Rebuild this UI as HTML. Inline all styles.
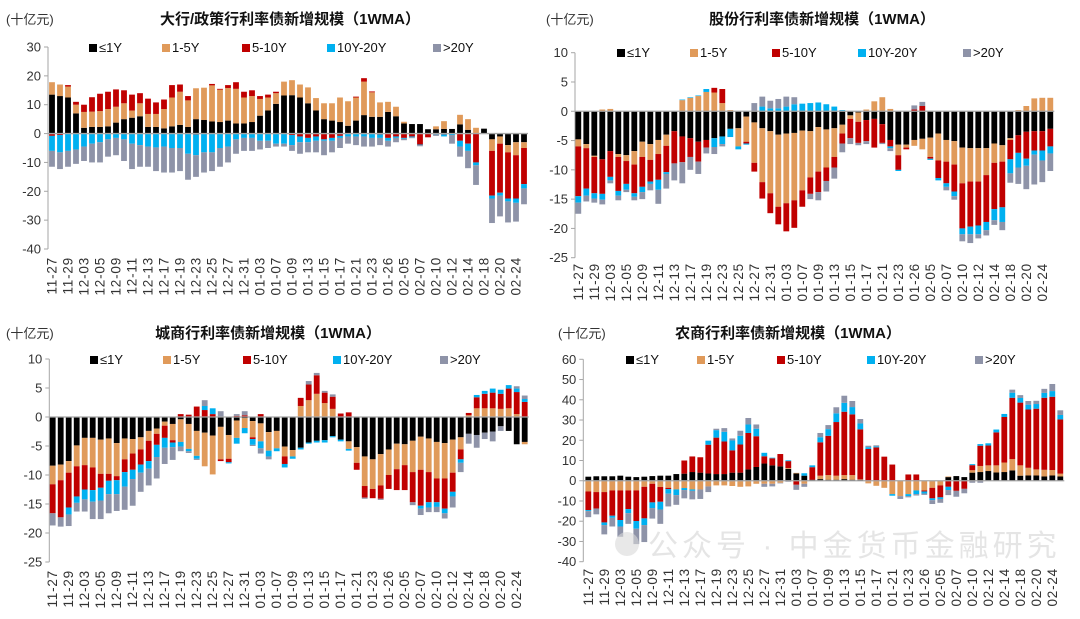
<!DOCTYPE html>
<html><head><meta charset="utf-8">
<style>
html,body{margin:0;padding:0;background:#fff;}
svg{display:block;font-family:"Liberation Sans","Noto Sans CJK SC",sans-serif;}
</style></head>
<body>
<svg id="chart" width="1080" height="619" viewBox="0 0 1080 619" xmlns="http://www.w3.org/2000/svg"></svg>
<script>
const categories = ["11-27","11-28","11-29","12-02","12-03","12-04","12-05","12-06","12-09","12-10","12-11","12-12","12-13","12-16","12-17","12-18","12-19","12-20","12-23","12-24","12-25","12-26","12-27","12-30","12-31","01-02","01-03","01-06","01-07","01-08","01-09","01-10","01-13","01-14","01-15","01-16","01-17","01-20","01-21","01-22","01-23","01-24","01-26","01-27","02-05","02-06","02-07","02-08","02-10","02-11","02-12","02-13","02-14","02-17","02-18","02-19","02-20","02-21","02-24","02-25"];
const seriesNames = ["≤1Y","1-5Y","5-10Y","10Y-20Y",">20Y"];

// Panel 1: 大行/政策行
const p1k = [13.5,13,12.5,7,2,2.3,2.3,2.5,3.8,5,5.5,6,2.3,2.3,1.8,2.5,3,2.3,5,4.7,4.2,4,4.5,3.5,3.5,4,6.2,8,10.3,13.2,13.3,12.5,10.5,8,5,4.5,4,2.7,4.5,6.4,5.8,5.8,7.5,6,3.5,3.3,3.3,1.5,1.5,1.6,1.6,3.2,1.3,0,1.7,-2,-1,-4,-3,-3];
const p1o = [4.3,4,3.8,3,5.5,5.3,5.5,6,5.5,5.5,2.5,4.5,4.5,4.5,6.7,10,11.5,9.2,10.7,11.2,12.5,11.2,11.3,12,9,9,5.8,4.5,3.7,4.8,5.2,4.5,5.5,4.3,5.5,6,8.5,8.5,8,11.6,8.5,5,3.5,3.3,0.6,0,0,0,1,2.7,0,3.3,3.7,2,0,-4,-2.5,-2.5,-4.5,-2];
const p1r = [-0.8,-0.5,0.5,1,2.5,5,6,6,6,4.5,5.5,3.5,5.3,4,3.3,4.3,2.5,1.5,-0.3,0,0.5,0.3,1,2.3,2,2,1,1,0.5,0,-0.5,-1,-1.5,-1,-2,-1.5,-0.8,0,0.3,1.2,0.3,-0.3,-1.5,-1,-1.5,-1,-3.8,-1.3,0,-0.3,0,-2.5,-3.5,-10,0,-15.5,-17,-16,-15,-12.5];
const p1b = [-5.2,-6,-6,-5.5,-4.5,-3.5,-3,-2,-1.5,-2,-3.5,-4,-4.5,-4.8,-4.5,-5,-5,-7,-7.2,-6.5,-6.5,-5,-4.5,-2,-1.5,-1.5,-2.5,-2.5,-3.5,-3.5,-3.5,-2,-1.5,-1.5,-0.5,-1,-0.7,-1,-1,-1,-1.5,-1.2,-1,-0.5,-0.3,-0.3,-0.2,0,-0.3,-0.7,-0.5,-2,-2.5,-1,0,-1,-1,-1,-1.5,-1.5];
const p1g = [-5.5,-5.8,-5.5,-5,-5,-6.5,-7,-6,-6,-7.5,-8.8,-7.5,-7,-8.2,-9,-8.5,-8,-9,-7.5,-7,-6.5,-6.5,-5.5,-5,-4.5,-4.5,-3,-2.5,-1,-1,-2,-4,-3.5,-4,-5,-4,-3.5,-2.5,-3,-3.5,-3,-2.5,-2,-1.5,-0.5,-0.3,-0.4,0,-0.5,0,-3,-3.5,-6,-6.8,0,-8.5,-7.2,-7.3,-6.5,-5.5];
const p1Ticks = [30,20,10,0,-10,-20,-30,-40];

// Panel 2: 股份行
const p2k = [-4.8,-5.6,-7.6,-8.2,-6.8,-7.3,-7.5,-6.8,-5.2,-5.6,-4.9,-4,-3.4,-4.3,-4.6,-5.2,-4.9,-4.6,-4.3,-3,-2.9,-0.9,-1.9,-2.9,-3.4,-4,-3.8,-3.7,-3.3,-3.4,-2.7,-3.1,-2.9,-2.3,-0.7,-0.2,-1.5,-1.3,-2.2,-4.9,-5.7,-5.7,-4.9,-4.7,-4.5,-3.8,-4.9,-5.1,-6.2,-6.3,-6.3,-6.3,-5.5,-5.8,-4.6,-4.1,-3.5,-3.4,-3.4,-3];
const p2o = [-1.2,-0.7,-0.2,0.3,0.4,-0.5,-1,-2.3,-2.6,-2.7,-2.4,-1.9,0,1.9,2.3,2.6,3.3,3.2,1.4,0.2,-3.1,-4.3,-6.9,-9.2,-10.6,-12.3,-11.9,-11.5,-10.2,-7.9,-7.6,-6.5,-4.9,-1.5,-0.6,-1.6,0.3,1.7,2.4,0.4,-1.8,-0.5,-1,-1.8,-3.3,-4.6,-3.7,-4,-6.1,-5.7,-5.7,-4.6,-3.3,-2.8,-0.3,0.2,0.9,2.2,2.3,2.3];
const p2r = [-8.5,-6.9,-6.2,-5.9,-4.4,-5.8,-3.9,-4.9,-5.1,-3.7,-4.4,-4.5,-5.5,-4.4,-3.2,-3.4,-1.3,0.8,2.4,0,0,-0.3,-1.5,-2.8,-3.4,-3,-4.8,-4.7,-2.8,-2.8,-3.5,-2.3,-1.8,-1.7,-3.3,-3.6,-3.6,-4.9,-3.2,-1.1,-2.5,-0.3,0.3,0.9,-0.3,-3,-3.7,-4.6,-7.7,-7.7,-7.5,-8,-7.9,-7.8,-3.3,-3,-4.6,-3.3,-3.3,-3];
const p2b = [-1.1,-1.2,-0.9,-1,-0.6,-0.8,-1,-0.6,-0.9,-0.4,-1.7,-0.3,0,0.1,0.1,0.1,0.5,-1.5,-1.3,-1.4,-0.5,-0.2,0,0.8,0.5,0.5,0.8,1.2,1.3,1.4,1.5,1.2,0.8,0.2,0,0,0,0,0,-0.3,-0.2,0,0,0,-0.2,-0.4,-0.6,-0.8,-1,-1.3,-1.5,-1.4,-1.9,-2.5,-2.4,-2.5,-1.2,-0.7,-1.7,-1.2];
const p2g = [-1.9,-1,-0.7,-0.8,-0.5,-0.8,-0.4,-0.6,-1.2,-1.1,-2.4,-2.5,-2.9,-3.6,-2.2,-2.1,-1,-1.2,-0.4,0,0,0,1.4,1.7,1.3,1.6,1.7,1.2,0,-0.9,-1.4,-1.8,-1.9,-1.5,-1,-0.4,-0.5,0,-0.2,-0.5,0,0,0.7,0.7,0,0,-0.6,-0.6,-1.2,-1.5,-0.7,-0.9,-0.8,-1.4,-1.6,-2.8,-4,-5.1,-3.7,-3];
const p2Ticks = [10,5,0,-5,-10,-15,-20,-25];

// Panel 3: 城商行
const p3k = [-8.4,-8.2,-7.6,-4.9,-3.6,-3.6,-3.9,-3.7,-4.5,-3.7,-3.8,-3.5,-2.4,-2,-0.8,-1.2,-0.4,-1.2,-2.4,-2.7,-3.2,-1.7,-3.1,-0.6,-0.2,-0.7,-1.1,-2.6,-2.4,-5.1,-5.7,-5.3,-4.4,-4.1,-4,-3.3,-3.9,-4.2,-5.2,-6.8,-7.3,-6.4,-5.6,-4.6,-4.7,-4.1,-3.4,-3.7,-4.3,-4.5,-3.9,-3.5,-2.9,-3.1,-2.7,-2.5,-1.6,-2.4,-4.7,-4.3];
const p3o = [-3.2,-2.7,-2,-3.6,-4.7,-5.1,-5.9,-6.1,-5.7,-3.6,-2.5,-2.1,-1.7,-0.9,-0.7,-2.8,-3.9,-4.3,-4.3,-5.8,-6.7,-5.6,-4.1,-3,-1.7,-2.8,-3.1,-3.2,-3,-1.7,-1.1,1.9,2.9,4,2.4,1.4,0,-1.3,-2.7,-5.1,-5.1,-5.4,-4.4,-4.4,-3.6,-5.4,-5.7,-5.8,-6.3,-6.1,-5.7,-2.1,0.3,1.5,1.5,1.5,1.4,1.5,0.5,-0.4];
const p3r = [-5,-6.4,-6,-5.2,-4.2,-3.9,-2.4,-1.2,-0.7,-2.2,-2.8,-2.6,-3.5,-1.9,-2.1,-0.4,0.5,0.4,1.8,1.2,0.5,-0.3,-0.6,0.2,0.3,-0.3,0.5,0,0,-1.3,0,1.4,2.7,3.2,1.8,2.1,0.6,0.8,-1.2,-2,-1.6,-2.3,-2.4,-3.6,-4.3,-5.2,-6.2,-5.2,-4.1,-5.2,-3.3,-1.7,0.4,1.9,2.5,2.7,2.6,3.4,3.8,2.6];
const p3b = [0,0,-1.2,-1.1,-1.7,-2,-2.2,-2.3,-2.4,-2.5,-1.6,-1.4,-1.3,-2.1,-1.7,-0.8,-0.8,-0.4,-0.5,0.7,1.0,0,-0.2,-1,-0.9,-1,-1.2,-1,-0.5,-0.6,-0.4,-0.3,-0.2,-0.3,-0.4,-0.2,-0.3,-0.3,0,0,0,0,0,0,0,0,-0.5,-0.9,-0.8,-0.8,-0.8,-0.6,0,0.4,0.5,0.7,0.7,0.6,0.6,0.5];
const p3g = [-2.1,-1.6,-2,-1.5,-2.1,-3,-3.2,-3.3,-2.9,-4,-4.6,-3.3,-2.9,-3.7,-2.8,-2.2,-0.8,-0.3,-0.2,1,0,1,0,0.3,0.7,-0.2,-0.9,-0.5,0,0,0,0,0.6,0.4,0.3,0.4,0,0,0,-0.2,0,-0.2,0,0,0,-0.5,-1.1,-0.8,-0.9,-0.9,-1.9,-1.6,-1.7,-2.2,-1.1,-1.7,-0.8,0,0.4,0.6];
const p3Ticks = [10,5,0,-5,-10,-15,-20,-25];

// Panel 4: 农商行
const p4k = [2,2.2,2.2,2.2,2.5,2,1.8,2,2.3,2.5,2.5,3.3,3.5,4.3,4,3.6,3.3,3.3,4,4,5.6,6.8,8.5,7.6,7.1,5.9,3.6,2.5,0.5,0.8,0.5,0.5,0.8,0.5,0.5,0,0,0,0,0,0,0,0,0,0,1.8,2.3,1.8,4,4.3,4.8,4.1,4.3,5.1,2.5,2.6,2.6,2.1,2.6,2.1];
const p4o = [-5.3,-5.6,-5.6,-4.8,-4.8,-4.8,-4.8,-3,-1.5,-3.1,-3.5,-4.3,-3.6,-4.3,-4.3,-2.8,-2.3,-2.3,-2.6,-3,-2.8,-1.5,-1.5,-1.5,-1,0.4,0.3,-1.5,0,1.7,2.3,2,2,2.3,0.2,-1.3,-2.5,-3.5,-6.6,-7.6,-6.6,-4.8,-4.8,-3.5,-2.3,0.3,0,0,1.2,3,2.8,3.5,4.7,5.6,5.1,3.8,3,3.3,2.7,1.4];
const p4r = [-9.2,-8.1,-15,-12.5,-14.6,-9.2,-15.1,-15.6,-9.2,-7.3,-0.6,0,6.5,7.7,7.6,14.2,18,16.1,11,13.9,18,15.2,3.6,3.5,6.1,3.4,-2,0,6.2,16.5,19.4,26.5,31.3,30,24.7,15.7,16.5,11.9,8,0,3.1,3.1,-0.5,-5.2,-5.9,-3,-5,-4,2.5,10,9.8,16.3,22.5,30.3,31,28.8,30,35.6,36.2,26.8];
const p4b = [-0.5,0,-1.3,-1,-3.2,-2,-3.8,-3.3,-2.8,-3.8,-2.3,-2.8,-1,-0.7,0,2,3.7,4.8,4.9,4.3,4.2,3.7,1.7,0.3,0,0.4,0,1.2,0.9,2.5,3.3,4.3,4.4,3.6,2.9,0.9,0.5,0,-0.8,0,-1,-1.8,-1,-0.9,-0.8,-1.6,0,0,0.5,0.8,1.1,1.4,1.5,2.5,2.3,2.4,2.3,2.4,2.8,2.2];
const p4g = [-3,-2.9,-4.6,-4.3,-5.1,-5.3,-7.6,-8.4,-5.2,-7.1,-6.3,-4.8,-4.1,-4.2,-4.7,-2.8,0.7,1.8,1,2.5,3.2,2.1,-1.5,-1.3,-0.3,-0.5,-2.5,-1.5,0,2.1,2,3,3.5,3,2.2,0.7,0.5,0,0,-1.4,-0.6,-0.7,-0.7,-1.9,-1.9,-2.5,-2.9,-2.2,-1,-1,0,0,0,1.5,1.4,1.8,1.6,2,3.5,2.3];
const p4Ticks = [60,50,40,30,20,10,0,-10,-20,-30,-40];

const COLORS = ["#000000","#E09A5A","#C00000","#00B0F0","#8E93A8"];
const NS = "http://www.w3.org/2000/svg";
const svg = document.getElementById("chart");

function mk(tag, attrs, parent){
  const e = document.createElementNS(NS, tag);
  for (const k in attrs) e.setAttribute(k, attrs[k]);
  (parent||svg).appendChild(e);
  return e;
}

function drawPanel(cfg){
  const g = mk("g", {});
  
  
  const ticks = cfg.ticks;
  const vmax = ticks[0], vmin = ticks[ticks.length-1];
  const yScale = v => cfg.yTop + (vmax - v) / (vmax - vmin) * (cfg.yBot - cfg.yTop);
  const band = 8;
  const xScale = i => cfg.left + band * (i + 0.5);
  const n = categories.length;
  const right = cfg.left + band * n;

  const unit = mk("text", {x: cfg.unitX, y: cfg.titleY, "font-size": 13, fill: "#333"}, g);
  unit.textContent = "(十亿元)";
  
  
  const title = mk("text", {x: cfg.titleX, y: cfg.titleY, "font-size": 15, "font-weight": "bold", "text-anchor": "middle", fill: "#111"}, g);
  title.textContent = cfg.title;
  
  

  const ax = mk("line", {x1: cfg.axisX, x2: cfg.axisX, y1: yScale(vmax), y2: yScale(vmin), stroke: "#a6a6a6", "stroke-width": 1}, g);
  
  
  ticks.forEach(t => {
    const y = yScale(t);
    const tk = mk("line", {x1: cfg.axisX - 4, x2: cfg.axisX, y1: y, y2: y, stroke: "#a6a6a6", "stroke-width": 1}, g);
    
    
    const tl = mk("text", {x: cfg.axisX - 7, y: y + 4.5, "font-size": 13, "text-anchor": "end", fill: "#333"}, g);
    tl.textContent = String(t);
    
    
  });

  const data = cfg.series;
  for (let i = 0; i < n; i++) {
    let pos = 0, neg = 0;
    for (let s = 0; s < data.length; s++) {
      const v = data[s][i];
      if (!v) continue;
      let a, b;
      if (v > 0) { a = pos; b = pos + v; pos = b; } else { a = neg; b = neg + v; neg = b; }
      const y1 = yScale(Math.max(a, b)), y2 = yScale(Math.min(a, b));
      const r = mk("rect", {x: xScale(i) - 2.9, y: y1, width: 5.8, height: Math.max(0.5, y2 - y1), fill: COLORS[s]}, g);
      
      
    }
  }

  const y0 = yScale(0);
  const zl = mk("line", {x1: cfg.axisX, x2: right, y1: y0, y2: y0, stroke: "#a6a6a6", "stroke-width": 1.3}, g);
  
  

  for (let i = 0; i < n; i += 2) {
    const x = xScale(i) + 4.5, y = cfg.labelTop;
    const t = mk("text", {x: x, y: y, "font-size": 13.5, "text-anchor": "end", fill: "#333", "letter-spacing": 0.8, transform: "rotate(-90 " + x + " " + y + ")"}, g);
    t.textContent = categories[i];
    
    
  }

  cfg.legendX.forEach((lx, s) => {
    const sq = mk("rect", {x: lx, y: cfg.legendY - 8, width: 8, height: 8, fill: COLORS[s]}, g);
    
    
    const lt = mk("text", {x: lx + 10, y: cfg.legendY, "font-size": 13, fill: "#111"}, g);
    lt.textContent = seriesNames[s];
    
    
  });
}

drawPanel({name: "big-banks-chart", title: "大行/政策行利率债新增规模（1WMA）", titleX: 290, titleY: 24, unitX: 6,
  ticks: p1Ticks, yTop: 47, yBot: 249, left: 48, axisX: 48, labelTop: 257,
  legendX: [89, 162, 242, 327, 433], legendY: 52,
  series: [p1k, p1o, p1r, p1b, p1g]});
drawPanel({name: "joint-stock-banks-chart", title: "股份行利率债新增规模（1WMA）", titleX: 822, titleY: 24, unitX: 546,
  ticks: p2Ticks, yTop: 52.7, yBot: 257.7, left: 574.3, axisX: 575, labelTop: 263,
  legendX: [617, 690, 772, 858, 963], legendY: 57,
  series: [p2k, p2o, p2r, p2b, p2g]});
drawPanel({name: "city-banks-chart", title: "城商行利率债新增规模（1WMA）", titleX: 268, titleY: 338, unitX: 6,
  ticks: p3Ticks, yTop: 359, yBot: 562, left: 48.7, axisX: 49.3, labelTop: 570,
  legendX: [90, 163, 243, 333, 440], legendY: 364,
  series: [p3k, p3o, p3r, p3b, p3g]});
drawPanel({name: "rural-banks-chart", title: "农商行利率债新增规模（1WMA）", titleX: 788, titleY: 338, unitX: 558,
  ticks: p4Ticks, yTop: 359.3, yBot: 561.7, left: 584.3, axisX: 583.3, labelTop: 568,
  legendX: [626, 697, 777, 867, 975], legendY: 364,
  series: [p4k, p4o, p4r, p4b, p4g]});

const wmc = mk("circle", {cx: 627, cy: 544, r: 12, fill: "#d8d8d8", opacity: 0.6});


const wm = mk("text", {x: 648, y: 556, "font-size": 30, fill: "#d0d0d0", opacity: 0.55, "letter-spacing": 4});
wm.textContent = "公众号 · 中金货币金融研究";


</script>
</body></html>
